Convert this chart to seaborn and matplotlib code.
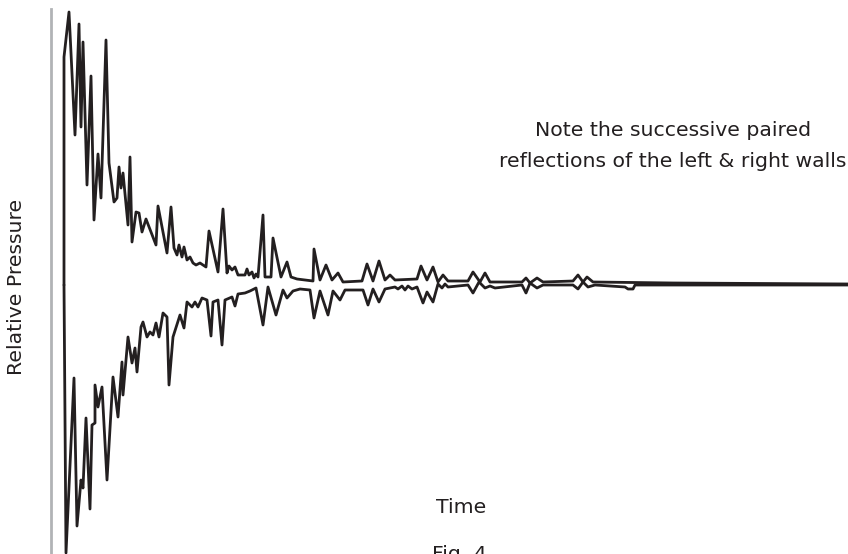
import matplotlib
matplotlib.use("Agg")
import matplotlib.pyplot as plt
import seaborn as sns

# pressure traces (time, relative pressure)
upper_time = [0, 0, 5, 11, 15, 17, 19, 23, 27, 30, 34, 37, 42, 45, 50, 53, 55, 57, 59,
              64, 66, 68, 72, 75, 78, 82, 92, 94, 103, 107, 110, 113, 115, 118, 120,
              123, 126, 129, 132, 136, 142, 145, 154, 159, 163, 165, 168, 171, 174,
              181, 183, 185, 188, 190, 192, 194, 199, 201, 207, 209, 217, 223, 227,
              233, 249, 250, 256, 262, 268, 274, 279, 298, 303, 309, 315, 321, 326,
              331, 353, 357, 363, 369, 374, 379, 384, 404, 409, 416, 421, 426, 458,
              462, 466, 473, 479, 509, 514, 519, 523, 529, 609, 784]
upper_pressure = [0, 228, 273, 150, 261, 158, 243, 100, 209, 65, 131, 87, 245, 122, 83,
                  87, 118, 97, 112, 60, 128, 43, 73, 72, 53, 66, 40, 79, 32, 78, 37,
                  30, 40, 28, 38, 25, 28, 22, 20, 22, 18, 54, 13, 76, 12, 19, 15, 18,
                  10, 10, 16, 10, 13, 7, 11, 8, 70, 8, 8, 47, 8, 23, 8, 6, 4, 36, 5,
                  20, 5, 12, 3, 4, 21, 4, 24, 5, 10, 5, 6, 19, 5, 18, 3, 10, 4, 4, 13,
                  3, 12, 3, 3, 7, 2, 7, 3, 4, 10, 3, 8, 3, 2, 1]

lower_time = [0, 2, 10, 13, 17, 19, 22, 26, 28, 31, 31, 34, 38, 43, 49, 54, 58, 59, 64,
              68, 71, 73, 77, 79, 83, 86, 89, 92, 95, 99, 103, 105, 109, 116, 120, 123,
              128, 131, 134, 138, 143, 147, 149, 154, 158, 161, 168, 171, 174, 181, 186,
              192, 199, 204, 212, 219, 223, 229, 236, 246, 250, 256, 264, 269, 276, 281,
              299, 304, 309, 315, 321, 331, 334, 338, 341, 344, 348, 353, 359, 363, 369,
              374, 378, 381, 384, 404, 409, 415, 421, 426, 431, 458, 462, 466, 473, 479,
              509, 514, 519, 524, 531, 561, 564, 569, 571, 609, 784]
lower_pressure = [0, -268, -93, -241, -195, -203, -133, -224, -140, -138, -100, -122,
                  -102, -195, -92, -132, -77, -110, -52, -78, -63, -87, -42, -37, -52,
                  -47, -50, -38, -52, -28, -32, -100, -52, -30, -43, -17, -22, -17, -22,
                  -13, -15, -51, -17, -15, -60, -15, -12, -21, -9, -8, -6, -3, -40, -2,
                  -30, -5, -13, -6, -4, -5, -33, -6, -30, -6, -15, -5, -5, -20, -4, -17,
                  -4, -2, -4, -1, -5, -1, -4, -2, -18, -7, -17, 1, -3, 1, -2, 0, -8, 3,
                  -3, -1, -3, 0, -8, 2, -3, 0, 0, -4, 3, -2, 0, -2, -4, -4, 0, 0, 0]

note_lines = ["Note the successive paired", "reflections of the left & right walls"]

INK = "#231f20"
AXIS_GREY = "#b1b3b6"
W, H = 848, 554

sns.set_style("white")
plt.rcParams["font.family"] = ["DejaVu Sans"]

fig = plt.figure(figsize=(W / 100, H / 100), dpi=100)
ax = fig.add_axes([51 / W, 0, (W - 51) / W, (H - 9) / H])

for t, p in [(upper_time, upper_pressure), (lower_time, lower_pressure)]:
    sns.lineplot(x=t, y=p, ax=ax, sort=False, estimator=None,
                 color=INK, linewidth=2.0)

ax.set_xlim(-13, 784)
ax.set_ylim(-269, 276)
ax.set_xticks([])
ax.set_yticks([0])
ax.set_yticklabels([])
ax.tick_params(axis="y", direction="in", length=9, width=1.5, color=AXIS_GREY)
for side in ["top", "right", "bottom"]:
    ax.spines[side].set_visible(False)
ax.spines["left"].set_color(AXIS_GREY)
ax.spines["left"].set_linewidth(2)


def px(x, y):
    return x / W, 1 - y / H


fs = 14.7
fig.text(*px(17, 287), "Relative Pressure", rotation=90, ha="center", va="center",
         fontsize=fs, color=INK)
fig.text(*px(461, 513), "Time", ha="center", va="baseline", fontsize=fs, color=INK)
fig.text(*px(459, 560), "Fig. 4", ha="center", va="baseline", fontsize=fs, color=INK)
fig.text(*px(673, 136), note_lines[0], ha="center", va="baseline", fontsize=fs, color=INK)
fig.text(*px(673, 167), note_lines[1], ha="center", va="baseline", fontsize=fs, color=INK)

fig.savefig("out.png", dpi=100)
